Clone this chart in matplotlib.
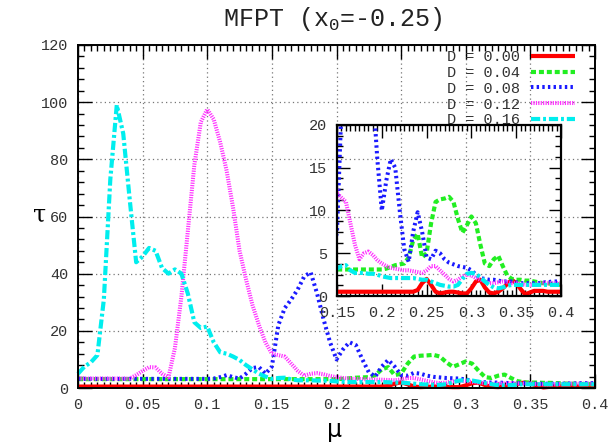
import matplotlib
matplotlib.use('Agg')
import matplotlib.pyplot as plt
from matplotlib.ticker import MultipleLocator, FuncFormatter

plt.rcParams['mathtext.fontset'] = 'custom'
plt.rcParams['mathtext.rm'] = 'Liberation Mono'
plt.rcParams['mathtext.it'] = 'Liberation Mono'

# ---- data ----
mu = [0.000, 0.005, 0.010, 0.015, 0.020, 0.025, 0.030, 0.035, 0.040, 0.045,
      0.050, 0.055, 0.060, 0.065, 0.070, 0.075, 0.080, 0.085, 0.090, 0.095,
      0.100, 0.105, 0.110, 0.115, 0.120, 0.125, 0.130, 0.135, 0.140, 0.145,
      0.150, 0.155, 0.160, 0.165, 0.170, 0.175, 0.180, 0.185, 0.190, 0.195,
      0.200, 0.205, 0.210, 0.215, 0.220, 0.225, 0.230, 0.235, 0.240, 0.245,
      0.250, 0.255, 0.260, 0.265, 0.270, 0.275, 0.280, 0.285, 0.290, 0.295,
      0.300, 0.305, 0.310, 0.315, 0.320, 0.325, 0.330, 0.335, 0.340, 0.345,
      0.350, 0.355, 0.360, 0.365, 0.370, 0.375, 0.380, 0.385, 0.390, 0.395,
      0.400]

tau_D000 = [0.5, 0.5, 0.5, 0.5, 0.5, 0.5, 0.5, 0.5, 0.5, 0.5,
            0.5, 0.5, 0.5, 0.5, 0.5, 0.5, 0.5, 0.5, 0.5, 0.5,
            0.5, 0.5, 0.5, 0.5, 0.5, 0.5, 0.5, 0.5, 0.5, 0.5,
            0.5, 0.5, 0.5, 0.5, 0.5, 0.5, 0.5, 0.5, 0.5, 0.5,
            0.5, 0.5, 0.5, 0.5, 0.5, 0.5, 0.5, 0.5, 0.7, 1.5,
            2.0, 1.3, 0.5, 0.3, 0.4, 0.5, 0.5, 0.4, 0.3, 0.3,
            0.9, 1.7, 1.9, 1.0, 0.4, 0.3, 0.5, 0.9, 1.4, 1.9,
            1.5, 0.8, 0.2, 0.4, 0.6, 0.6, 0.6, 0.5, 0.5, 0.5,
            0.5]

tau_D004 = [3.1, 3.1, 3.1, 3.1, 3.1, 3.1, 3.1, 3.1, 3.1, 3.1,
            3.1, 3.1, 3.1, 3.1, 3.1, 3.1, 3.1, 3.1, 3.1, 3.1,
            3.1, 3.1, 3.1, 3.1, 3.1, 3.1, 3.1, 3.1, 3.1, 3.1,
            3.1, 3.1, 3.1, 3.1, 3.1, 3.1, 3.1, 3.1, 3.1, 3.1,
            3.1, 3.2, 3.4, 3.6, 3.7, 3.8, 4.5, 6.5, 7.3, 4.5,
            5.0, 8.5, 11.0, 11.3, 11.4, 11.6, 11.0, 9.0, 7.4, 8.3,
            9.3, 8.5, 6.0, 3.8, 3.5, 4.3, 4.7, 3.5, 2.4, 2.0,
            1.9, 1.9, 1.8, 1.8, 1.7, 1.6, 1.5, 1.5, 1.4, 1.4,
            1.3]

tau_D008 = [3.2, 3.2, 3.2, 3.2, 3.2, 3.2, 3.2, 3.2, 3.2, 3.2,
            3.2, 3.2, 3.2, 3.2, 3.2, 3.2, 3.2, 3.2, 3.2, 3.2,
            3.2, 3.3, 3.8, 4.5, 3.8, 3.3, 5.0, 7.0, 7.3, 5.0,
            7.5, 22.0, 28.0, 31.0, 34.5, 39.0, 40.5, 33.0, 24.0, 16.0,
            10.0, 13.5, 16.0, 15.0, 10.0, 5.5, 4.0, 7.5, 9.8, 7.5,
            4.5, 4.3, 5.3, 5.0, 4.3, 3.9, 3.7, 3.5, 3.4, 3.3,
            3.0, 2.5, 2.1, 2.0, 1.9, 1.9, 1.8, 1.7, 1.7, 1.7,
            1.6, 1.5, 1.5, 1.5, 1.5, 1.5, 1.6, 1.6, 1.7, 1.7,
            1.7]

tau_D012 = [3.3, 3.3, 3.3, 3.3, 3.3, 3.3, 3.3, 3.3, 3.3, 4.5,
            6.0, 7.3, 7.2, 5.0, 3.7, 14.0, 32.0, 55.0, 78.0, 93.0,
            97.5, 94.0, 86.0, 76.0, 63.0, 48.0, 38.0, 29.0, 22.0, 16.0,
            12.0, 11.5, 11.0, 8.5, 6.0, 4.3, 5.0, 5.2, 4.8, 4.2,
            3.8, 3.5, 3.3, 3.2, 3.1, 3.0, 3.0, 2.9, 2.8, 2.7,
            3.0, 3.5, 3.5, 3.0, 2.5, 2.0, 1.7, 1.9, 2.3, 2.5,
            2.4, 2.1, 1.9, 1.7, 1.5, 1.5, 1.6, 1.7, 1.6, 1.5,
            1.5, 1.4, 1.3, 1.3, 1.3, 1.4, 1.5, 1.5, 1.5, 1.5,
            1.5]

tau_D016 = [5.0, 7.5, 9.0, 11.5, 31.0, 73.0, 99.0, 89.0, 66.0, 44.0,
            46.0, 49.0, 48.0, 42.0, 40.0, 41.5, 40.0, 33.0, 23.0, 21.0,
            21.5, 16.0, 12.5, 12.0, 11.0, 9.8, 8.0, 6.5, 5.0, 4.0,
            3.2, 3.5, 3.6, 3.0, 2.7, 2.7, 2.7, 2.6, 2.6, 2.5,
            2.3, 2.2, 2.1, 2.1, 2.1, 2.1, 2.1, 2.1, 2.0, 1.9,
            1.9, 1.7, 1.5, 1.3, 1.2, 1.1, 1.1, 1.3, 2.0, 2.6,
            2.7, 2.6, 2.2, 1.7, 1.3, 1.0, 0.9, 1.0, 1.2, 1.3,
            1.3, 1.3, 1.3, 1.3, 1.3, 1.3, 1.3, 1.3, 1.3, 1.3,
            1.3]

labels = ['D = 0.00', 'D = 0.04', 'D = 0.08', 'D = 0.12', 'D = 0.16']
series = [tau_D000, tau_D004, tau_D008, tau_D012, tau_D016]
colors = ['#ff0000', '#22ee22', '#1a1aff', '#ff33ff', '#00eeee']
styles = [
    dict(lw=3.0, linestyle='-'),
    dict(lw=3.0, dashes=(1.2, 0.7)),
    dict(lw=2.9, dashes=(0.6, 0.8)),
    dict(lw=2.9, dashes=(0.3, 0.3)),
    dict(lw=3.0, dashes=(2.2, 0.7, 0.7, 0.7)),
]

MONO = 'Liberation Mono'
W, H = 610, 442
fig = plt.figure(figsize=(W / 100, H / 100), dpi=100)

def fmt(v, pos):
    return '%g' % round(v, 4)

# ---- main axes ----
ax = fig.add_axes([78 / W, 1 - 388 / H, (595 - 78) / W, (388 - 45) / H])
for y, lab, c, st in zip(series, labels, colors, styles):
    ln, = ax.plot(mu, y, color=c, label=lab, clip_on=False, **st)
    ln.set_dash_capstyle('butt')
    ln.set_solid_capstyle('butt')
ax.set_xlim(0, 0.4)
ax.set_ylim(0, 120)
ax.xaxis.set_major_locator(MultipleLocator(0.05))
ax.xaxis.set_minor_locator(MultipleLocator(0.005))
ax.yaxis.set_major_locator(MultipleLocator(20))
ax.yaxis.set_minor_locator(MultipleLocator(4))
ax.xaxis.set_major_formatter(FuncFormatter(fmt))
ax.yaxis.set_major_formatter(FuncFormatter(fmt))
ax.tick_params(which='both', direction='in', top=True, right=True, colors='black')
ax.tick_params(which='major', length=10, width=1.0, pad=7, labelsize=11, labelcolor='#333333')
ax.tick_params(which='minor', length=4, width=1.0)
for t in ax.get_xticklabels() + ax.get_yticklabels():
    t.set_family(MONO)
ax.grid(True, which='major', color='#777777', linestyle=(0, (1, 2.5)), linewidth=0.9)
for s in ax.spines.values():
    s.set_linewidth(1.4)

ax.set_xlabel('μ', fontsize=17, family='DejaVu Sans')
ax.set_ylabel('τ', fontsize=17, family='DejaVu Serif', rotation=0, va='center')
ax.xaxis.set_label_coords(0.497, -0.088)
ax.yaxis.set_label_coords(-0.074, 0.505)

leg = ax.legend(loc='upper right', bbox_to_anchor=(0.962, 0.985), frameon=False,
                markerfirst=False, handlelength=2.9, handletextpad=0.7,
                labelspacing=0.12, borderpad=0, borderaxespad=0,
                prop={'family': MONO, 'size': 11})
for t in leg.get_texts():
    t.set_color('#333333')

fig.text(333 / W, 1 - 19 / H, 'MFPT (x$_{0}$=-0.25)', ha='center', va='center',
         fontsize=18, family=MONO, color='#222222')

# ---- inset ----
ins = fig.add_axes([337 / W, 1 - 296 / H, (561 - 337) / W, (296 - 125) / H])
ins.patch.set_alpha(0)
for y, lab, c, st in zip(series, labels, colors, styles):
    ln, = ins.plot(mu, y, color=c, **st)
    ln.set_dash_capstyle('butt')
ins.set_xlim(0.15, 0.4)
ins.set_ylim(0, 20)
ins.xaxis.set_major_locator(MultipleLocator(0.05))
ins.xaxis.set_minor_locator(MultipleLocator(0.005))
ins.yaxis.set_major_locator(MultipleLocator(5))
ins.yaxis.set_minor_locator(MultipleLocator(1.25))
ins.xaxis.set_major_formatter(FuncFormatter(fmt))
ins.yaxis.set_major_formatter(FuncFormatter(fmt))
ins.tick_params(which='both', direction='in', top=True, right=True)
ins.tick_params(which='major', length=9, width=1.0, pad=7, labelsize=11, labelcolor='#333333')
ins.tick_params(which='minor', length=4, width=1.0)
for t in ins.get_xticklabels() + ins.get_yticklabels():
    t.set_family(MONO)
for s in ins.spines.values():
    s.set_linewidth(1.6)

fig.savefig('out.png', dpi=100)
